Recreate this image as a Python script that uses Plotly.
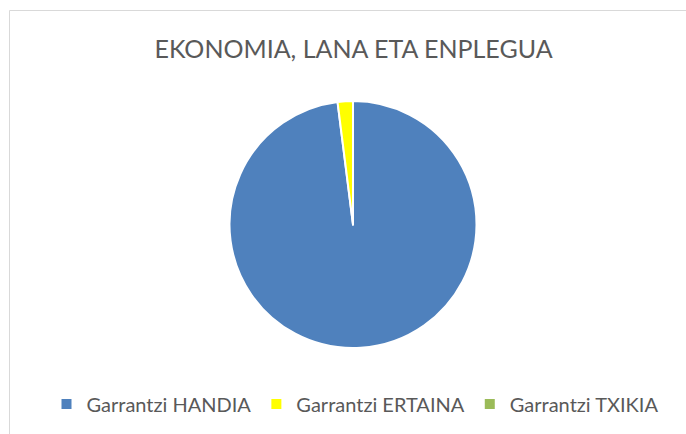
import plotly.graph_objects as go

title = "EKONOMIA, LANA ETA ENPLEGUA"
categories = ["Garrantzi HANDIA", "Garrantzi ERTAINA", "Garrantzi TXIKIA"]
values = [98, 2, 0]
colors = ["#4F81BD", "#FFFF00", "#9BBB59"]

W, H = 686, 434
cx, cy, r = 353, 224.5, 123.5

fig = go.Figure(go.Pie(
    labels=categories,
    values=values,
    marker=dict(colors=colors, line=dict(color="white", width=2)),
    sort=False,
    direction="clockwise",
    rotation=0,
    textinfo="none",
    hoverinfo="label+percent",
    domain=dict(x=[(cx - r) / W, (cx + r) / W], y=[1 - (cy + r) / H, 1 - (cy - r) / H]),
))

fig.update_layout(
    width=W, height=H,
    margin=dict(l=0, r=0, t=0, b=0),
    paper_bgcolor="white",
    plot_bgcolor="white",
    title=dict(text=title, x=353.5 / W, xanchor="center", y=1 - 49 / H, yanchor="middle",
               font=dict(family="Lato", size=25, color="#595959")),
    showlegend=True,
    legend=dict(orientation="h", x=355 / W, xanchor="center", y=1 - 404 / H, yanchor="middle",
                font=dict(family="Lato", size=20, color="#595959"),
                itemwidth=30, bgcolor="rgba(0,0,0,0)"),
    shapes=[dict(type="rect", xref="paper", yref="paper",
                 x0=9.5 / W, x1=1.01, y0=-0.01, y1=1 - 10.5 / H,
                 line=dict(color="#D9D9D9", width=1), fillcolor="rgba(0,0,0,0)", layer="below")],
)

fig.write_html("out.html", config={"displayModeBar": False},
               post_script="document.body.style.margin='0';")
